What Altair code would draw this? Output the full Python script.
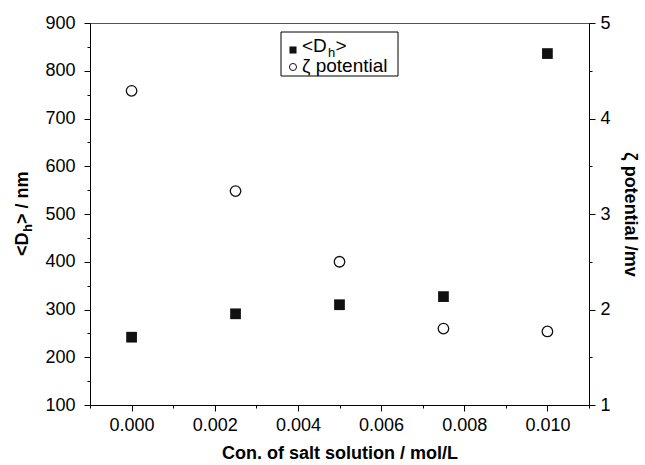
import altair as alt
import pandas as pd

# ---- data ----
conc = [0.0, 0.0025, 0.005, 0.0075, 0.010]
dh_nm = [242, 291, 310, 327, 836]
zeta_mv = [4.29, 3.24, 2.50, 1.80, 1.77]

x_ticks = [-0.001, 0.0, 0.001, 0.002, 0.003, 0.004, 0.005, 0.006, 0.007, 0.008, 0.009, 0.010, 0.011]
yl_ticks = [100, 150, 200, 250, 300, 350, 400, 450, 500, 550, 600, 650, 700, 750, 800, 850, 900]
yr_ticks = [1, 1.5, 2, 2.5, 3, 3.5, 4, 4.5, 5]

df = pd.DataFrame({"conc": conc, "dh": dh_nm, "zeta": zeta_mv})

FONT = "Liberation Sans"
LBL = 18
TTL = 18
LEG = 19

x_enc = alt.X(
    "conc:Q",
    scale=alt.Scale(domain=[-0.001, 0.011], nice=False, zero=False),
    axis=alt.Axis(
        values=x_ticks,
        labelExpr="round(datum.value*1000) % 2 === 0 ? format(datum.value, '.3f') : ''",
        tickSize={"condition": {"test": "round(datum.value*1000) % 2 !== 0", "value": 3}, "value": 6},
        title="Con. of salt solution / mol/L",
        titleFontWeight="bold",
        titleFontSize=TTL,
        titlePadding=10,
        labelOverlap=False,
        labelFlush=False,
        labelPadding=5,
    ),
)

squares = alt.Chart(df).mark_point(
    shape="square", filled=True, color="#111111", size=115, opacity=1
).encode(
    x=x_enc,
    y=alt.Y(
        "dh:Q",
        scale=alt.Scale(domain=[100, 900], nice=False, zero=False),
        axis=alt.Axis(
            orient="left",
            values=yl_ticks,
            labelExpr="datum.value % 100 === 0 ? format(datum.value, 'd') : ''",
            tickSize={"condition": {"test": "datum.value % 100 !== 0", "value": 3}, "value": 6},
            title=None,
            labelOverlap=False,
            labelFlush=False,
            labelPadding=9,
        ),
    ),
)

circles = alt.Chart(df).mark_point(
    shape="circle", filled=False, color="#111111", strokeWidth=1.3, size=110, opacity=1
).encode(
    x=x_enc,
    y=alt.Y(
        "zeta:Q",
        scale=alt.Scale(domain=[1, 5], nice=False, zero=False),
        axis=alt.Axis(
            orient="right",
            values=yr_ticks,
            labelExpr="datum.value % 1 === 0 ? format(datum.value, 'd') : ''",
            tickSize={"condition": {"test": "datum.value % 1 !== 0", "value": 3}, "value": 6},
            title="ζ potential /mv",
            titleFontWeight="bold",
            titleFontSize=TTL,
            titlePadding=10,
            labelOverlap=False,
            labelFlush=False,
            labelPadding=5,
        ),
    ),
)

one = pd.DataFrame({"k": [0]})


def txt(s, x, y, size, weight="normal", angle=0, align="left", baseline="middle"):
    kw = dict(fontSize=size, font=FONT, fontWeight=weight, align=align, baseline=baseline, color="black")
    if angle:
        kw["angle"] = angle
    return alt.Chart(one).mark_text(text=s, **kw).encode(x=alt.value(x), y=alt.value(y))


# left axis title "<Dh> / nm" (rotated, with subscript)
LY0 = 233
LX = -67
ltitle = [
    txt("<D", LX, LY0, TTL, "bold", 270),
    txt("h", LX + 5, LY0 - 24, 13, "bold", 270),
    txt("> / nm", LX, LY0 - 32, TTL, "bold", 270),
]

# legend
box = alt.Chart(one).mark_rect(fill="white", stroke="black", strokeWidth=1).encode(
    x=alt.value(191), x2=alt.value(308), y=alt.value(9), y2=alt.value(53)
)
leg_sq = alt.Chart(one).mark_point(shape="square", filled=True, color="#111111", size=50, opacity=1).encode(
    x=alt.value(203), y=alt.value(27)
)
leg_ci = alt.Chart(one).mark_point(shape="circle", filled=False, color="#111111", strokeWidth=1, size=50, opacity=1).encode(
    x=alt.value(203), y=alt.value(44)
)
leg_txt = [
    txt("<D", 212, 23, LEG),
    txt("h", 212 + 26, 30, 13),
    txt(">", 212 + 26 + 7.5, 23, LEG),
    txt("ζ potential", 212, 43, LEG),
]

chart = alt.layer(
    squares, circles, *ltitle, box, leg_sq, leg_ci, *leg_txt
).resolve_scale(y="independent").properties(
    width=499, height=382,
    autosize=alt.AutoSizeParams(type="none"),
    padding={"left": 90, "top": 23, "right": 56, "bottom": 60},
    background="white",
).configure_axis(
    grid=False,
    domainColor="black",
    tickColor="black",
    labelColor="black",
    titleColor="black",
    labelFont=FONT,
    titleFont=FONT,
    labelFontSize=LBL,
    domainWidth=1,
    tickWidth=1,
).configure_view(stroke="#555555", strokeWidth=1)

chart.save("out.html", embed_options={"renderer": "svg", "actions": False})
